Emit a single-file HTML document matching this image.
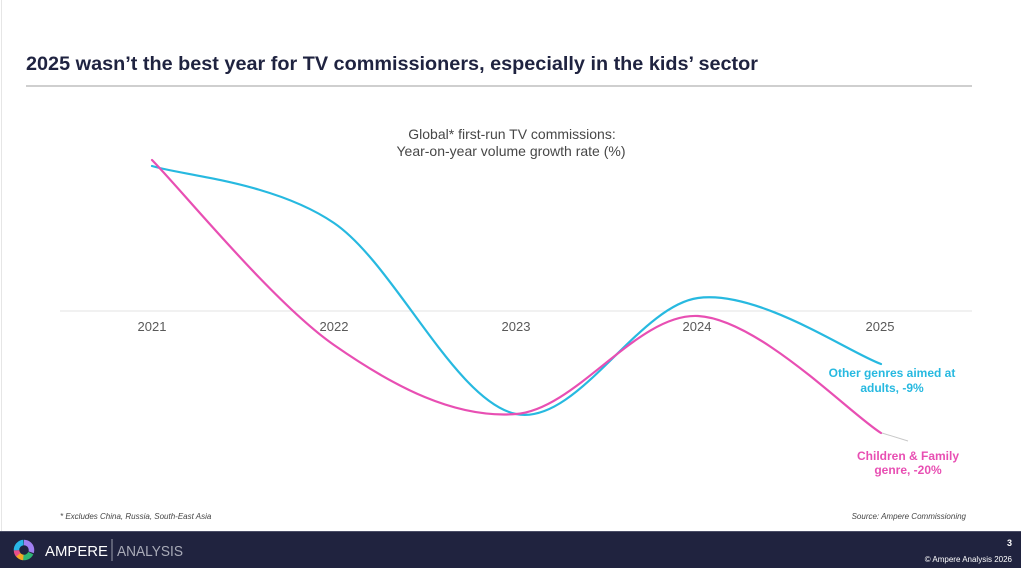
<!DOCTYPE html>
<html>
<head>
<meta charset="utf-8">
<style>
  html,body{margin:0;padding:0;background:#fff;}
  body{width:1024px;height:570px;overflow:hidden;position:relative;font-family:"Liberation Sans",Arial,sans-serif;}
  svg{position:absolute;left:0;top:0;}
</style>
</head>
<body>
<svg width="1024" height="570" viewBox="0 0 1024 570" xmlns="http://www.w3.org/2000/svg">
  <rect x="0" y="0" width="1024" height="570" fill="#ffffff"/>
  <line x1="1.5" y1="0" x2="1.5" y2="531" stroke="#e6e6e6" stroke-width="1"/>

  <!-- Title -->
  <text x="26" y="70" font-family="Liberation Sans, Arial, sans-serif" font-weight="bold" font-size="19" fill="#1f2340" textLength="732" lengthAdjust="spacingAndGlyphs">2025 wasn’t the best year for TV commissioners, especially in the kids’ sector</text>
  <line x1="26" y1="86" x2="972" y2="86" stroke="#cfcfcf" stroke-width="2"/>

  <!-- Chart title -->
  <text x="512" y="139" text-anchor="middle" font-family="Liberation Sans, Arial, sans-serif" font-size="14" fill="#474747">Global* first-run TV commissions:</text>
  <text x="511" y="156" text-anchor="middle" font-family="Liberation Sans, Arial, sans-serif" font-size="14" fill="#474747">Year-on-year volume growth rate (%)</text>

  <!-- axis -->
  <line x1="60" y1="311" x2="972" y2="311" stroke="#e3e3e3" stroke-width="1"/>
  <g font-family="Liberation Sans, Arial, sans-serif" font-size="13" fill="#595959" text-anchor="middle">
    <text x="152" y="331">2021</text>
    <text x="334" y="331">2022</text>
    <text x="516" y="331">2023</text>
    <text x="697" y="331">2024</text>
    <text x="880" y="331">2025</text>
  </g>

  <!-- Blue series -->
  <path d="M152,166 C182.3,175.5 273.3,181.7 334,223 C394.7,264.3 455.3,401.5 516,414 C576.7,426.5 637.3,306.3 698,298 C758.7,289.7 849.7,353 881,364"
        fill="none" stroke="#27b9e0" stroke-width="2.2" stroke-linecap="round"/>
  <!-- Pink series -->
  <path d="M152,160 C182.3,190.8 273.3,302.7 334,345 C394.7,387.3 455.3,418.8 516,414 C576.7,409.2 637.3,312.8 698,316 C758.7,319.2 849.7,413.5 881,433"
        fill="none" stroke="#e84fb3" stroke-width="2.2" stroke-linecap="round"/>
  <!-- leader -->
  <line x1="882" y1="433" x2="908" y2="441" stroke="#c8c8c8" stroke-width="1"/>

  <!-- Series labels -->
  <g font-family="Liberation Sans, Arial, sans-serif" font-weight="bold" font-size="12" text-anchor="middle">
    <text x="892" y="377" fill="#27b9e0">Other genres aimed at</text>
    <text x="892" y="392" fill="#27b9e0">adults, -9%</text>
    <text x="908" y="460" fill="#e84fb3">Children &amp; Family</text>
    <text x="908" y="474" fill="#e84fb3">genre, -20%</text>
  </g>

  <!-- footnotes -->
  <text x="60" y="519" font-family="Liberation Sans, Arial, sans-serif" font-style="italic" font-size="8" fill="#444">* Excludes China, Russia, South-East Asia</text>
  <text x="966" y="519" text-anchor="end" font-family="Liberation Sans, Arial, sans-serif" font-style="italic" font-size="8" fill="#444">Source: Ampere Commissioning</text>

  <!-- footer -->
  <rect x="0" y="531" width="1021" height="37" fill="#20233f"/>
  <line x1="0" y1="531.5" x2="1021" y2="531.5" stroke="#4a4d66" stroke-width="1"/>

  <!-- logo ring -->
  <g transform="translate(24,550)">
    <circle r="7.5" fill="none" stroke="#a07ff0" stroke-width="5.5" stroke-dasharray="14 100" transform="rotate(-90)"/>
    <circle r="7.5" fill="none" stroke="#2fb574" stroke-width="5.5" stroke-dasharray="13 100" transform="rotate(25)"/>
    <circle r="7.5" fill="none" stroke="#f5a623" stroke-width="5.5" stroke-dasharray="9 100" transform="rotate(95)"/>
    <circle r="7.5" fill="none" stroke="#e94e8a" stroke-width="5.5" stroke-dasharray="5 100" transform="rotate(140)"/>
    <circle r="7.5" fill="none" stroke="#29b6e6" stroke-width="5.5" stroke-dasharray="11.5 100" transform="rotate(178)"/>
  </g>
  <text x="45" y="556" font-family="Liberation Sans, Arial, sans-serif" font-size="15" fill="#ffffff" textLength="63" lengthAdjust="spacingAndGlyphs">AMPERE</text>
  <line x1="112" y1="539" x2="112" y2="561" stroke="#9a9cab" stroke-width="1"/>
  <text x="117" y="556" font-family="Liberation Sans, Arial, sans-serif" font-size="15" fill="#a9abb8" textLength="66" lengthAdjust="spacingAndGlyphs">ANALYSIS</text>

  <text x="1012" y="546" text-anchor="end" font-family="Liberation Sans, Arial, sans-serif" font-weight="bold" font-size="9" fill="#ffffff">3</text>
  <text x="1012" y="562" text-anchor="end" font-family="Liberation Sans, Arial, sans-serif" font-size="8" fill="#ffffff">© Ampere Analysis 2026</text>
</svg>
</body>
</html>
